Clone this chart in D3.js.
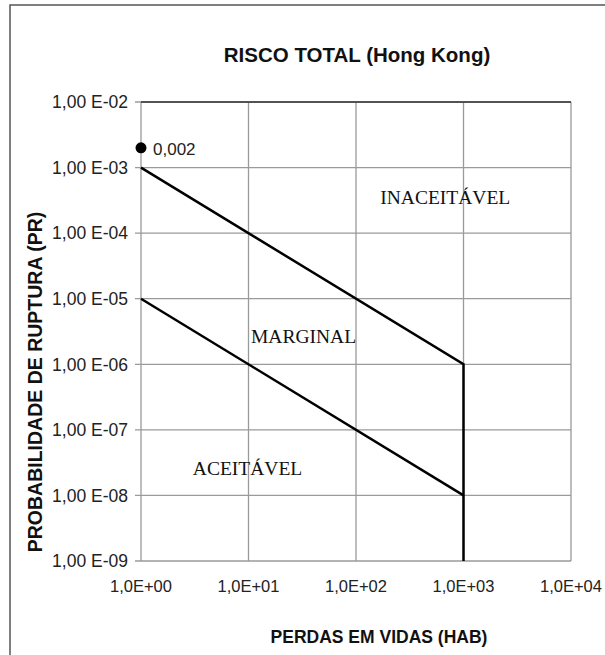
<!DOCTYPE html>
<html>
<head>
<meta charset="utf-8">
<script src="https://cdn.jsdelivr.net/npm/d3@7"></script>
<style>
  html, body { margin: 0; padding: 0; background: #fff; }
  svg { display: block; }
</style>
</head>
<body>
<svg id="chart" width="605" height="655"></svg>
<script>
// Risk criterion (Hong Kong): probability of failure vs. loss of life
const xTicks = [1, 10, 100, 1000, 10000];
const xTickLabels = ["1,0E+00", "1,0E+01", "1,0E+02", "1,0E+03", "1,0E+04"];
const yTicks = [1e-2, 1e-3, 1e-4, 1e-5, 1e-6, 1e-7, 1e-8, 1e-9];
const yTickLabels = ["1,00 E-02", "1,00 E-03", "1,00 E-04", "1,00 E-05",
                     "1,00 E-06", "1,00 E-07", "1,00 E-08", "1,00 E-09"];

// Upper boundary (unacceptable) and lower boundary (acceptable)
const upperX = [1, 1000, 1000];
const upperY = [1e-3, 1e-6, 1e-9];
const lowerX = [1, 1000];
const lowerY = [1e-5, 1e-8];

// Dam under assessment
const pointX = [1];
const pointY = [0.002];
const pointLabels = ["0,002"];

// Region names, placed in data coordinates
const regionNames = ["INACEITÁVEL", "MARGINAL", "ACEITÁVEL"];
const regionX = [676, 32.5, 9.8];
const regionY = [2.78e-4, 2.11e-6, 2.04e-8];

(function draw() {
  const svg = d3.select("#chart");
  const sans = "'Liberation Sans', Arial, sans-serif";
  const serif = "'Liberation Serif', 'Times New Roman', serif";

  const pl = 141, pr = 571, pt = 102, pb = 561;
  const x = d3.scaleLog().domain([1, 1e4]).range([pl, pr]);
  const y = d3.scaleLog().domain([1e-2, 1e-9]).range([pt, pb]);

  // Outer frame
  svg.append("path")
    .attr("d", "M10,660 V5 H610")
    .attr("fill", "none").attr("stroke", "#555").attr("stroke-width", 1.5);

  // Title
  svg.append("text")
    .attr("x", 357).attr("y", 62)
    .attr("text-anchor", "middle")
    .attr("font-family", sans).attr("font-weight", "bold").attr("font-size", 20.5)
    .attr("fill", "#111")
    .text("RISCO TOTAL (Hong Kong)");

  // Grid
  const grid = svg.append("g").attr("stroke", "#9a9a9a").attr("stroke-width", 1.3);
  grid.selectAll("line.v").data(xTicks).join("line").attr("class", "v")
    .attr("x1", d => x(d)).attr("x2", d => x(d))
    .attr("y1", pt).attr("y2", pb);
  grid.selectAll("line.h").data(yTicks).join("line").attr("class", "h")
    .attr("x1", pl - 6).attr("x2", pr)
    .attr("y1", d => y(d)).attr("y2", d => y(d));
  // darker top edge of the plot
  svg.append("line")
    .attr("x1", pl).attr("x2", pr).attr("y1", pt).attr("y2", pt)
    .attr("stroke", "#333").attr("stroke-width", 1.3);

  // Y tick labels
  svg.append("g").selectAll("text").data(yTicks).join("text")
    .attr("x", 128).attr("y", d => y(d))
    .attr("dy", "0.36em")
    .attr("text-anchor", "end")
    .attr("font-family", sans).attr("font-size", 17.5).attr("fill", "#222")
    .text((d, i) => yTickLabels[i]);

  // X tick labels
  svg.append("g").selectAll("text").data(xTicks).join("text")
    .attr("x", d => x(d)).attr("y", 592)
    .attr("text-anchor", "middle")
    .attr("font-family", sans).attr("font-size", 16.5).attr("fill", "#222")
    .text((d, i) => xTickLabels[i]);

  // Axis titles
  svg.append("text")
    .attr("x", 379).attr("y", 643)
    .attr("text-anchor", "middle")
    .attr("font-family", sans).attr("font-weight", "bold").attr("font-size", 17.5)
    .attr("fill", "#111")
    .text("PERDAS EM VIDAS (HAB)");

  svg.append("text")
    .attr("transform", "translate(42,382) rotate(-90)")
    .attr("text-anchor", "middle")
    .attr("font-family", sans).attr("font-weight", "bold").attr("font-size", 19.5)
    .attr("fill", "#111")
    .text("PROBABILIDADE DE RUPTURA (PR)");

  // Boundary lines
  const line = d3.line().x(d => x(d[0])).y(d => y(d[1]));
  svg.append("path")
    .attr("d", line(d3.zip(upperX, upperY)))
    .attr("fill", "none").attr("stroke", "#000").attr("stroke-width", 2.5);
  svg.append("path")
    .attr("d", line(d3.zip(lowerX, lowerY)))
    .attr("fill", "none").attr("stroke", "#000").attr("stroke-width", 2.5);

  // Point and its label
  const pts = d3.zip(pointX, pointY, pointLabels);
  svg.append("g").selectAll("circle").data(pts).join("circle")
    .attr("cx", d => x(d[0])).attr("cy", d => y(d[1]))
    .attr("r", 5.5).attr("fill", "#000");
  svg.append("g").selectAll("text").data(pts).join("text")
    .attr("x", d => x(d[0]) + 12).attr("y", d => y(d[1]) + 7)
    .attr("font-family", sans).attr("font-size", 17).attr("fill", "#222")
    .text(d => d[2]);

  // Region names
  svg.append("g").selectAll("text").data(d3.zip(regionX, regionY, regionNames)).join("text")
    .attr("x", d => x(d[0])).attr("y", d => y(d[1]))
    .attr("text-anchor", "middle")
    .attr("font-family", serif).attr("font-size", 19.5).attr("fill", "#111")
    .text(d => d[2]);
})();
</script>
</body>
</html>
